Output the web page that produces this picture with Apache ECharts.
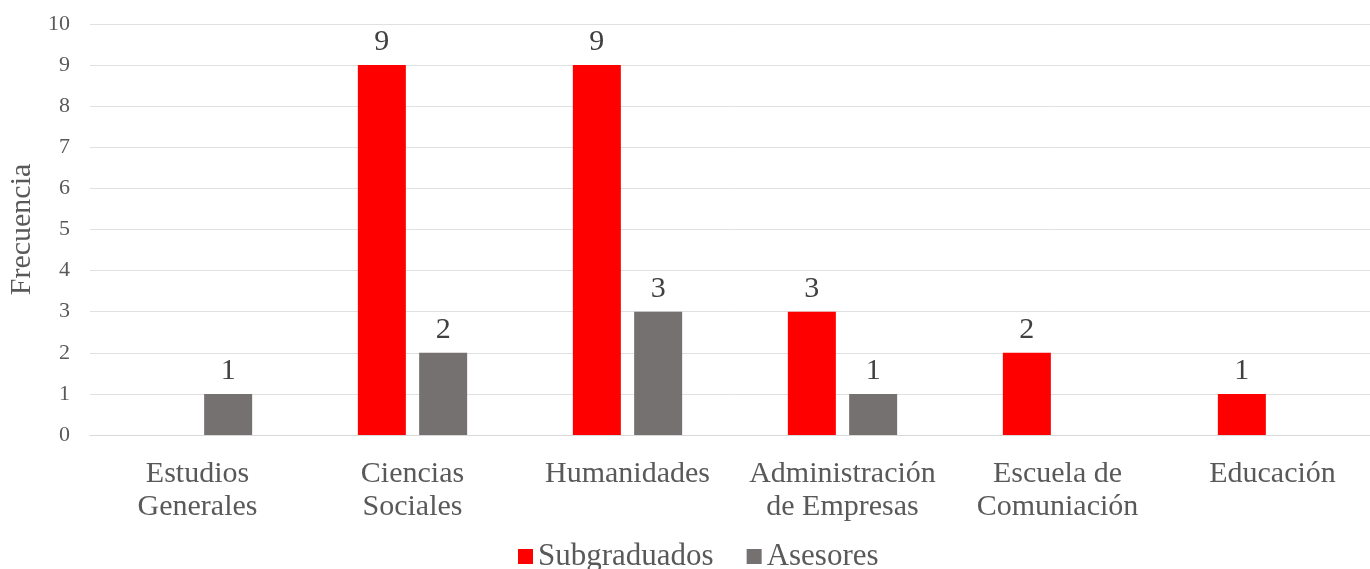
<!DOCTYPE html>
<html>
<head>
<meta charset="utf-8">
<script src="https://cdn.jsdelivr.net/npm/echarts@6/dist/echarts.min.js"></script>
<style>
  html, body { margin: 0; padding: 0; background: #fff; }
  #chart { width: 1370px; height: 569px; }
</style>
</head>
<body>
<div id="chart"></div>
<script>
// categorias y valores
const categories = ['Estudios\nGenerales', 'Ciencias\nSociales', 'Humanidades',
  'Administración\nde Empresas', 'Escuela de\nComuniación', 'Educación'];
const subgraduados = [0, 9, 9, 3, 2, 1];
const asesores = [1, 2, 3, 1, 0, 0];
const yTicks = [0, 10, 1];  // min, max, interval

const font = 'Liberation Serif, Times New Roman, serif';
const textColor = '#595959';

const chart = echarts.init(document.getElementById('chart'));

function labelFor(v) {
  return v.value === 0 ? '' : String(v.value);
}

chart.setOption({
  animation: false,
  textStyle: { fontFamily: font },
  grid: { left: 90, right: -10, top: 24, bottom: 134, outerBoundsMode: 'none', containLabel: false },
  legend: {
    bottom: -8,
    left: 513,
    itemWidth: 15,
    itemHeight: 15,
    itemGap: 33,
    icon: 'rect',
    textStyle: { fontFamily: font, fontSize: 31, color: textColor },
    data: ['Subgraduados', 'Asesores']
  },
  xAxis: {
    type: 'category',
    data: categories,
    axisLine: { lineStyle: { color: '#d9d9d9' } },
    axisTick: { show: false },
    axisLabel: {
      fontFamily: font, fontSize: 30, color: textColor,
      margin: 23, lineHeight: 33, interval: 0
    }
  },
  yAxis: {
    type: 'value',
    min: yTicks[0],
    max: yTicks[1],
    interval: yTicks[2],
    name: 'Frecuencia',
    nameLocation: 'middle',
    nameGap: 47,
    nameTextStyle: { fontFamily: font, fontSize: 30, color: textColor },
    axisLine: { show: false },
    axisTick: { show: false },
    axisLabel: { fontFamily: font, fontSize: 22, color: textColor, margin: 20 },
    splitLine: { lineStyle: { color: '#e0e0e0' } }
  },
  series: [
    {
      name: 'Subgraduados',
      type: 'bar',
      data: subgraduados,
      barWidth: 48,
      barGap: '27.7%',
      itemStyle: { color: '#ff0000' },
      label: {
        show: true, position: 'top', distance: 8,
        fontFamily: font, fontSize: 30, color: '#404040',
        formatter: labelFor
      }
    },
    {
      name: 'Asesores',
      type: 'bar',
      data: asesores,
      barWidth: 48,
      barGap: '27.7%',
      itemStyle: { color: '#767171' },
      label: {
        show: true, position: 'top', distance: 8,
        fontFamily: font, fontSize: 30, color: '#404040',
        formatter: labelFor
      }
    }
  ]
});
</script>
</body>
</html>
